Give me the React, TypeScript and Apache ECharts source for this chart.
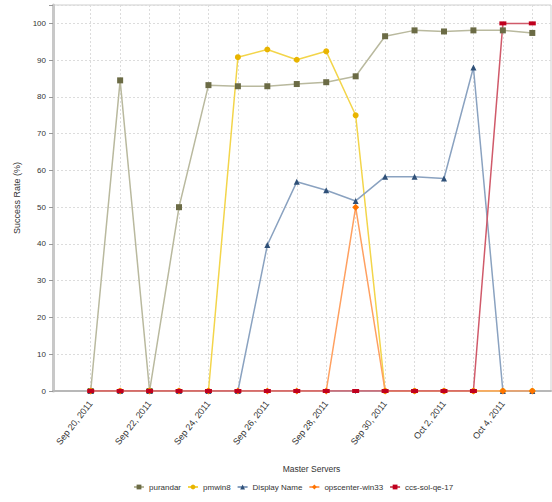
import React, { useEffect, useRef } from "react";
import * as echarts from "echarts";

const categories = [
  "Sep 20, 2011", "Sep 21, 2011", "Sep 22, 2011", "Sep 23, 2011",
  "Sep 24, 2011", "Sep 25, 2011", "Sep 26, 2011", "Sep 27, 2011",
  "Sep 28, 2011", "Sep 29, 2011", "Sep 30, 2011", "Oct 1, 2011",
  "Oct 2, 2011", "Oct 3, 2011", "Oct 4, 2011", "Oct 5, 2011",
];

const purandar = [0, 84.5, 0, 50, 83.2, 82.9, 82.9, 83.5, 84, 85.6, 96.5, 98.1, 97.8, 98.1, 98.1, 97.4];
const pmwin8 = [0, 0, 0, 0, 0, 90.8, 92.9, 90.1, 92.4, 75, 0, 0, 0, 0, 0, 0];
const displayName = [0, 0, 0, 0, 0, 0, 39.7, 56.9, 54.6, 51.7, 58.3, 58.3, 57.8, 88, 0, 0];
const opscenter = [0, 0, 0, 0, 0, 0, 0, 0, 0, 50, 0, 0, 0, 0, 0, 0];
const ccsSolQe17 = [0, 0, 0, 0, 0, 0, 0, 0, 0, 0, 0, 0, 0, 0, 100, 100];

const yTicks = [0, 10, 20, 30, 40, 50, 60, 70, 80, 90, 100];

const FONT = "Liberation Sans";

export default function App() {
  const ref = useRef<HTMLDivElement>(null);
  useEffect(() => {
    if (!ref.current) return;
    const chart = echarts.init(ref.current, undefined, { renderer: "svg" });
    const top = 5;
    const bottom = 111;
    const mk = (
      name: string,
      data: number[],
      symbol: string,
      symbolSize: number | number[],
      markerColor: string,
      lineColor: string
    ) => ({
      name,
      type: "line",
      xAxisIndex: 0,
      yAxisIndex: 0,
      data,
      symbol,
      symbolSize,
      showAllSymbol: true,
      itemStyle: { color: markerColor },
      lineStyle: { color: lineColor, width: 1.5 },
      emphasis: { disabled: true },
    });
    chart.setOption({
      animation: false,
      textStyle: { fontFamily: FONT },
      grid: [
        { left: 90.7, right: 19.7, top, bottom, show: false },
        {
          left: 53,
          right: 1,
          top,
          bottom,
          show: true,
          borderColor: "#cfcfcf",
          borderWidth: 1,
          backgroundColor: "#ffffff",
          z: 0,
        },
      ],
      xAxis: [
        {
          type: "category",
          gridIndex: 0,
          data: categories,
          boundaryGap: false,
          axisLine: { show: false },
          axisTick: { show: true, interval: 0, length: 3, lineStyle: { color: "#999" } },
          axisLabel: {
            interval: 1,
            rotate: 52,
            fontSize: 9,
            color: "#333",
            margin: 11,
            fontFamily: FONT,
          },
          splitLine: {
            show: true,
            interval: 0,
            lineStyle: { color: "#dcdcdc", type: [2, 2], width: 1 },
          },
          name: "Master Servers",
          nameLocation: "middle",
          nameGap: 73,
          nameTextStyle: { fontSize: 8.5, color: "#333", fontFamily: FONT },
        },
        {
          type: "value",
          gridIndex: 1,
          min: 0,
          max: 1,
          axisLine: { show: true, lineStyle: { color: "#b8b8b8", width: 2 } },
          axisTick: { show: false },
          axisLabel: { show: false },
          splitLine: { show: false },
        },
      ],
      yAxis: [
        {
          type: "value",
          gridIndex: 0,
          min: 0,
          max: 105,
          interval: 10,
          show: false,
          splitLine: { show: false },
        },
        {
          type: "value",
          gridIndex: 1,
          min: 0,
          max: 105,
          interval: 10,
          axisLine: { show: true, lineStyle: { color: "#c8c8c8", width: 3 } },
          axisTick: { show: true, length: 4, lineStyle: { color: "#999" } },
          axisLabel: {
            fontSize: 8,
            color: "#333",
            margin: 7,
            fontFamily: FONT,
            formatter: (v: number) => (yTicks.includes(v) ? String(v) : ""),
          },
          splitLine: { show: true, lineStyle: { color: "#dcdcdc", type: [2, 2], width: 1 } },
          name: "Success Rate (%)",
          nameLocation: "middle",
          nameGap: 26,
          nameRotate: 90,
          nameTextStyle: { fontSize: 9, color: "#333", fontFamily: FONT },
        },
      ],
      legend: {
        bottom: 6,
        left: 128,
        itemWidth: 10,
        itemHeight: 6,
        itemGap: 6,
        textStyle: { fontSize: 8, color: "#333", fontFamily: FONT },
        data: ["purandar", "pmwin8", "Display Name", "opscenter-win33", "ccs-sol-qe-17"],
      },
      series: [
        mk("purandar", purandar, "rect", 6, "#6b6b45", "#b9b99e"),
        mk("pmwin8", pmwin8, "circle", 6, "#e8b400", "#f3d54a"),
        mk("Display Name", displayName, "triangle", 6, "#2f5078", "#8aa2c0"),
        mk("opscenter-win33", opscenter, "diamond", 7, "#ff7400", "#ffa060"),
        mk("ccs-sol-qe-17", ccsSolQe17, "rect", [7, 4], "#c0001e", "#d05a6a"),
      ],
    });
    return () => chart.dispose();
  }, []);
  return (
    <div
      ref={ref}
      style={{ position: "fixed", left: 0, top: 0, width: 552, height: 502, background: "#fff" }}
    />
  );
}
